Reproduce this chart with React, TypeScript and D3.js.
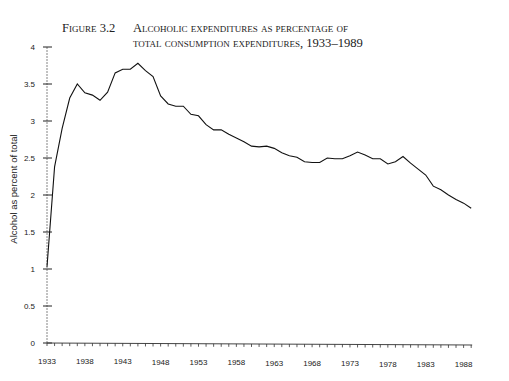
import React from "react";
import * as d3 from "d3";

const years: number[] = d3.range(1933, 1990);
const values: number[] = [
  1.03, 2.38, 2.9, 3.31, 3.5, 3.38, 3.35, 3.28, 3.39, 3.65,
  3.7, 3.7, 3.78, 3.68, 3.6, 3.34, 3.23, 3.2, 3.2, 3.09,
  3.07, 2.95, 2.88, 2.88, 2.82, 2.77, 2.72, 2.66, 2.65, 2.66,
  2.63, 2.57, 2.53, 2.51, 2.45, 2.44, 2.44, 2.5, 2.49, 2.49,
  2.53, 2.58, 2.54, 2.49, 2.49, 2.42, 2.45, 2.52, 2.43, 2.35,
  2.27, 2.12, 2.07, 2.0, 1.94, 1.89, 1.82,
];
const yTicks: number[] = [0, 0.5, 1, 1.5, 2, 2.5, 3, 3.5, 4];
const xTickLabels: number[] = [1933, 1938, 1943, 1948, 1953, 1958, 1963, 1968, 1973, 1978, 1983, 1988];
const titleLabel = "Figure 3.2";
const titleLines: string[] = [
  "Alcoholic expenditures as percentage of",
  "total consumption expenditures, 1933–1989",
];
const yAxisTitle = "Alcohol as percent of total";

export default function App() {
  const W = 509, H = 381;
  const x = d3.scaleLinear().domain([1933, 1988]).range([47, 463.6]);
  const y = d3.scaleLinear().domain([0, 4]).range([343, 47]);
  const line = d3.line<number>().x((_, i) => x(years[i])).y((d) => y(d));
  const sans = "'Liberation Sans', Arial, sans-serif";
  const serif = "'Liberation Serif', 'Times New Roman', serif";
  const xEnd = x(1989) + 1;
  const slope = (v: number) => (x(v) - x(1933)) / (xEnd - x(1933));
  return (
    <svg width={W} height={H} style={{ position: "absolute", left: 0, top: 0, background: "#fff" }}>
      <rect x={0} y={0} width={W} height={H} fill="#fff" />
      <g fontFamily={serif} fill="#222" style={{ fontVariant: "small-caps" }} fontSize={12.6}>
        <text x={62} y={31.5}>{titleLabel}</text>
        <text x={133} y={31.5}>{titleLines[0]}</text>
        <text x={133} y={47}>{titleLines[1]}</text>
      </g>
      {/* y axis */}
      <line x1={x(1933)} x2={x(1933)} y1={y(4)} y2={y(0)} stroke="#666" strokeWidth={0.8} strokeDasharray="2,1" />
      {yTicks.map((t) => (
        <g key={t}>
          <line x1={x(1933) - 4} x2={x(1933) + 5} y1={y(t)} y2={y(t)} stroke="#222" strokeWidth={1} />
          <text x={35} y={y(t) + 3} textAnchor="end" fontFamily={sans} fontSize={8} fill="#222">
            {t}
          </text>
        </g>
      ))}
      <text
        transform={`translate(17,189) rotate(-90)`}
        textAnchor="middle"
        fontFamily={sans}
        fontSize={9.5}
        fill="#222"
      >
        {yAxisTitle}
      </text>
      {/* x axis */}
      <line x1={x(1933)} x2={xEnd} y1={y(0)} y2={y(0) + 2} stroke="#444" strokeWidth={1} />
      {years.map((yr) => (
        <line
          key={yr}
          x1={x(yr)}
          x2={x(yr)}
          y1={y(0) + slope(yr) * 2}
          y2={y(0) + 3 + slope(yr) * 2}
          stroke="#333"
          strokeWidth={0.8}
        />
      ))}
      {xTickLabels.map((yr) => (
        <text
          key={yr}
          x={x(yr)}
          y={363.5 + slope(yr) * 4}
          textAnchor="middle"
          fontFamily={sans}
          fontSize={8}
          fill="#222"
        >
          {yr}
        </text>
      ))}
      <path d={line(values) || ""} fill="none" stroke="#111" strokeWidth={1.1} />
    </svg>
  );
}
